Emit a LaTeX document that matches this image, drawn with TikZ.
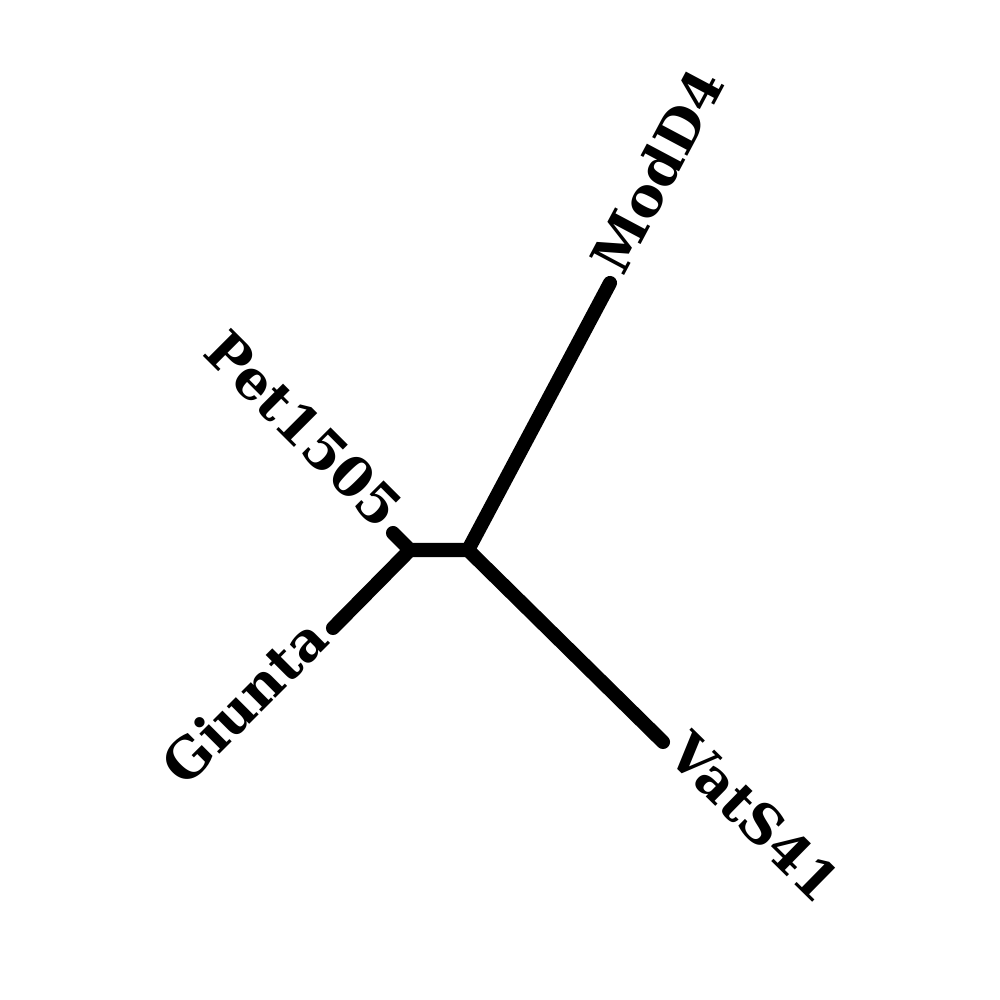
\documentclass[tikz,border=0pt]{standalone}
\usepackage{fontspec}
\setmainfont{DejaVu Serif}
\begin{document}
\begin{tikzpicture}[
  branch/.style={line width=4pt, line cap=round, line join=round},
  leaflabel/.style={font=\bfseries\fontsize{15.5}{17.5}\selectfont, inner sep=3pt}
]
\useasboundingbox (0,0) rectangle (10,10);
\coordinate (n1) at (4.10,4.50);
\coordinate (n2) at (4.68,4.50);
\coordinate (pet) at (3.93,4.67);
\coordinate (giu) at (3.33,3.72);
\coordinate (mod) at (6.10,7.17);
\coordinate (vat) at (6.63,2.58);
\draw[branch] (pet) -- (n1) -- (n2) -- (mod);
\draw[branch] (giu) -- (n1);
\draw[branch] (n2) -- (vat);
\node[leaflabel, anchor=mid west, rotate=62] (lmod) at (mod) {ModD4};
\node[leaflabel, anchor=mid west, rotate=-44.5] (lvat) at (vat) {VatS41};
\node[leaflabel, anchor=mid east, rotate=-45] (lpet) at (pet) {Pet1505};
\node[leaflabel, anchor=mid east, rotate=45] (lgiu) at (giu) {Giunta};
\end{tikzpicture}
\end{document}
